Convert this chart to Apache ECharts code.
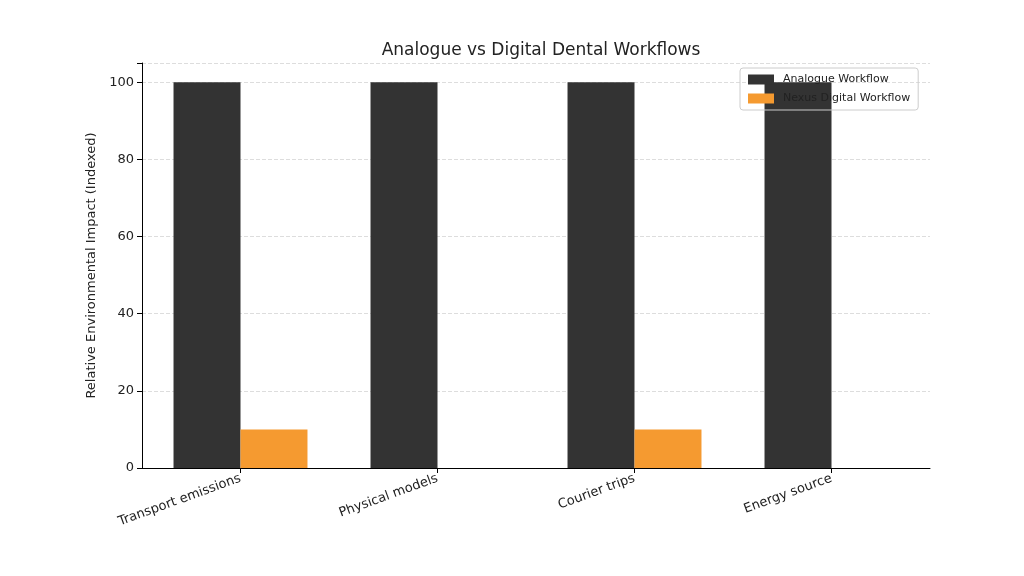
<!DOCTYPE html>
<html>
<head>
<meta charset="utf-8">
<script src="https://cdn.jsdelivr.net/npm/echarts@6/dist/echarts.min.js"></script>
<style>html,body{margin:0;background:#fff}#chart{width:1024px;height:576px}</style>
</head>
<body>
<div id="chart"></div>
<script>
const categories = ['Transport emissions', 'Physical models', 'Courier trips', 'Energy source'];
const analogueValues = [100, 100, 100, 100];
const digitalValues = [10, 0, 10, 0];
const yTicks = [0, 20, 40, 60, 80, 100];

const chart = echarts.init(document.getElementById('chart'));
const font = 'DejaVu Sans';
chart.setOption({
  animation: false,
  textStyle: { fontFamily: font },
  title: {
    text: 'Analogue vs Digital Dental Workflows',
    left: 536, top: 37, textAlign: 'center',
    textStyle: { fontSize: 17, fontWeight: 'normal', color: '#222', fontFamily: font }
  },
  legend: {
    left: 740, top: 68, orient: 'vertical', itemWidth: 26, itemHeight: 10, itemGap: 8,
    borderColor: '#ccc', borderWidth: 1, borderRadius: 3, padding: [6, 8],
    icon: 'rect',
    textStyle: { fontSize: 11, color: '#222', fontFamily: font, padding: [0, 0, 0, 4] },
    data: ['Analogue Workflow', 'Nexus Digital Workflow']
  },
  grid: { left: 142, right: 94, top: 63, bottom: 108 },
  xAxis: {
    type: 'category', data: categories,
    axisLine: { lineStyle: { color: '#000' } },
    axisTick: { show: true, alignWithLabel: true, lineStyle: { color: '#000' } },
    axisLabel: { rotate: 20, fontSize: 13, color: '#222', margin: 10 },
    splitLine: { show: false }
  },
  yAxis: {
    type: 'value', min: 0, max: 105, interval: 20,
    name: 'Relative Environmental Impact (Indexed)', nameLocation: 'middle', nameGap: 42,
    nameTextStyle: { fontSize: 13, color: '#222' },
    axisLine: { show: true, lineStyle: { color: '#000' } },
    axisTick: { show: true, lineStyle: { color: '#000' } },
    axisLabel: { fontSize: 13, color: '#222', formatter: v => yTicks.includes(v) ? v : '' },
    splitLine: { lineStyle: { type: 'dashed', color: '#ddd' } }
  },
  series: [
    { name: 'Analogue Workflow', type: 'bar', data: analogueValues, barWidth: '34%', barGap: '0%', itemStyle: { color: '#333333' } },
    { name: 'Nexus Digital Workflow', type: 'bar', data: digitalValues, barWidth: '34%', itemStyle: { color: '#f59a30' } }
  ]
});
</script>
</body>
</html>
